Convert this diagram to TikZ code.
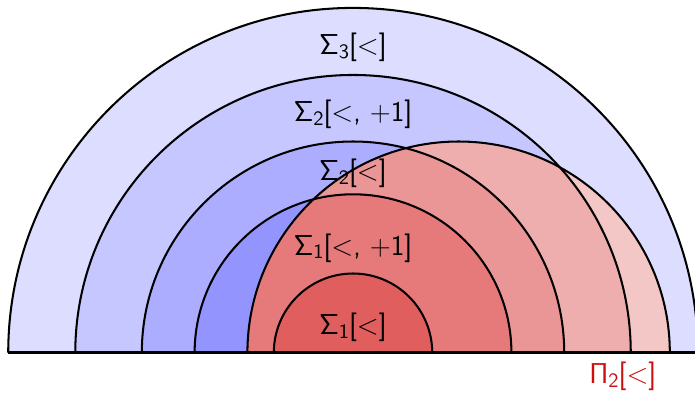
\documentclass[tikz,border=0pt]{standalone}
\usepackage{fontspec}
\setsansfont{Latin Modern Sans}
\definecolor{bA}{RGB}{221,222,255}
\definecolor{bB}{RGB}{199,199,255}
\definecolor{bC}{RGB}{173,173,255}
\definecolor{bD}{RGB}{148,148,255}
\definecolor{rA}{RGB}{244,199,199}
\definecolor{rB}{RGB}{239,174,174}
\definecolor{rC}{RGB}{235,150,150}
\definecolor{rD}{RGB}{230,122,122}
\definecolor{rE}{RGB}{224,94,94}
\definecolor{lab}{RGB}{204,16,16}
\newcommand{\sbx}[1]{\raisebox{-0.32ex}{\fontsize{11}{12}\selectfont #1}}
\begin{document}
\begin{tikzpicture}[
  arcline/.style={line width=1.1pt,black},
  baseline/.style={line width=1.6pt,black},
  lbl/.style={font=\sffamily\fontsize{15.5}{18}\selectfont,inner sep=0pt,anchor=base}]
\useasboundingbox (-6.686,-0.801) rectangle (6.477,6.68);
% blue half discs
\fill[bA] (6.53,0) arc[start angle=0,end angle=180,radius=6.53] -- cycle;
\fill[bB] (5.26,0) arc[start angle=0,end angle=180,radius=5.26] -- cycle;
\fill[bC] (4,0) arc[start angle=0,end angle=180,radius=4] -- cycle;
\fill[bD] (3,0) arc[start angle=0,end angle=180,radius=3] -- cycle;
% red half disc, shaded by ring
\fill[rA] (6,0) arc[start angle=0,end angle=180,radius=4] -- cycle;
\begin{scope}
  \clip (5.26,0) arc[start angle=0,end angle=180,radius=5.26] -- cycle;
  \fill[rB] (6,0) arc[start angle=0,end angle=180,radius=4] -- cycle;
\end{scope}
\begin{scope}
  \clip (4,0) arc[start angle=0,end angle=180,radius=4] -- cycle;
  \fill[rC] (6,0) arc[start angle=0,end angle=180,radius=4] -- cycle;
\end{scope}
\begin{scope}
  \clip (3,0) arc[start angle=0,end angle=180,radius=3] -- cycle;
  \fill[rD] (6,0) arc[start angle=0,end angle=180,radius=4] -- cycle;
\end{scope}
\fill[rE] (1.5,0) arc[start angle=0,end angle=180,radius=1.5] -- cycle;
% outlines
\draw[arcline] (6.53,0) arc[start angle=0,end angle=180,radius=6.53];
\draw[arcline] (5.26,0) arc[start angle=0,end angle=180,radius=5.26];
\draw[arcline] (4,0) arc[start angle=0,end angle=180,radius=4];
\draw[arcline] (3,0) arc[start angle=0,end angle=180,radius=3];
\draw[arcline] (6,0) arc[start angle=0,end angle=180,radius=4];
\draw[arcline] (1.5,0) arc[start angle=0,end angle=180,radius=1.5];
\draw[baseline] (-6.53,0) -- (6.6,0);
% labels
\node[lbl] (s3) at (0,5.65) {Σ\sbx{3}[<]};
\node[lbl] (s2p) at (0,4.375) {Σ\sbx{2}[<, +1]};
\node[lbl] (s2) at (0,3.27) {Σ\sbx{2}[<]};
\node[lbl] (s1p) at (0,1.85) {Σ\sbx{1}[<, +1]};
\node[lbl] (s1) at (0,0.35) {Σ\sbx{1}[<]};
\node[lbl,text=lab] (p2) at (5.11,-0.575) {Π\sbx{2}[<]};
\end{tikzpicture}
\end{document}
